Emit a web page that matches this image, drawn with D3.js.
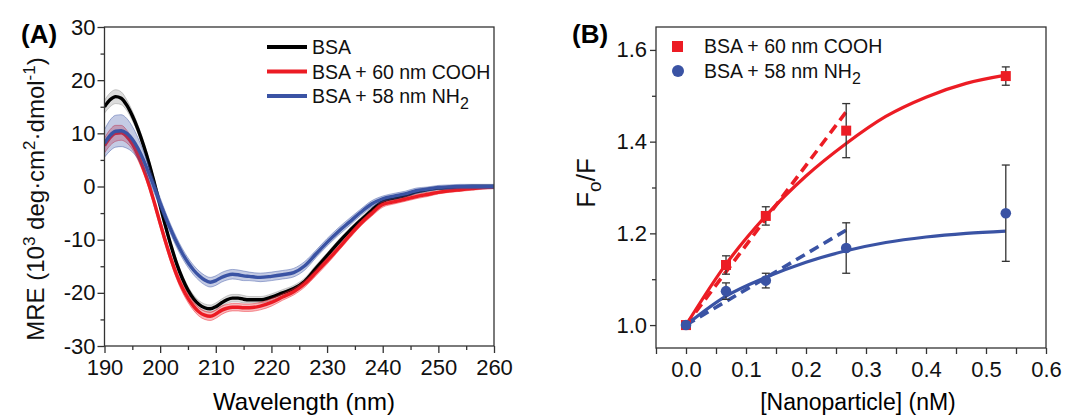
<!DOCTYPE html>
<html>
<head>
<meta charset="utf-8">
<script src="https://cdn.jsdelivr.net/npm/d3@7"></script>
<style>
  body { margin: 0; background: #fff; }
  svg { display: block; font-family: "Liberation Sans", Arial, sans-serif; }
</style>
</head>
<body>
<svg id="chart" width="1083" height="416"></svg>
<script>
// ---- panel A data: CD spectra ----
const wavelength = [190,191,192,193,194,195,196,197,198,199,200,201,202,203,204,205,206,207,208,209,210,211,212,213,214,215,216,218,220,222,224,226,228,230,232,234,236,238,240,242,244,246,248,250,252,254,256,258,260]
const mreBSA  = [15.0,16.3,16.9,16.6,15.3,13.3,10.8,7.8,4.4,0.5,-3.6,-7.6,-11.3,-14.6,-17.3,-19.5,-21.1,-22.2,-22.8,-23.0,-22.6,-21.9,-21.3,-21.0,-21.0,-21.2,-21.3,-21.3,-20.8,-20.0,-19.2,-17.8,-15.4,-13.0,-10.6,-8.4,-6.4,-4.5,-2.8,-2.2,-1.7,-1.0,-0.6,-0.3,-0.2,-0.1,0,0,0]
const errBSA  = [1.2,1.3,1.3,1.2,1.0,0.9,0.8,0.8,0.7,0.7,0.7,0.7,0.7,0.7,0.7,0.7,0.7,0.7,0.7,0.7,0.7,0.7,0.7,0.7,0.7,0.7,0.6,0.6,0.6,0.6,0.6,0.6,0.6,0.5,0.5,0.5,0.5,0.5,0.5,0.4,0.4,0.4,0.4,0.3,0.3,0.3,0.3,0.3,0.3]
const mreCOOH = [7.7,9.2,10.0,10.1,9.4,8.0,5.9,3.3,0.3,-3.2,-6.9,-10.5,-13.8,-16.7,-19.1,-21.0,-22.5,-23.6,-24.2,-24.4,-24.0,-23.3,-22.9,-22.7,-22.7,-22.8,-22.8,-22.5,-21.8,-20.8,-19.8,-18.3,-16.2,-14.0,-11.7,-9.3,-7.0,-5.1,-3.4,-2.9,-2.4,-1.9,-1.5,-1.1,-0.8,-0.6,-0.4,-0.2,-0.1]
const errCOOH = [1.4,1.5,1.5,1.4,1.2,1.0,0.9,0.8,0.8,0.8,0.8,0.8,0.8,0.8,0.8,0.8,0.8,0.8,0.8,0.8,0.8,0.8,0.7,0.7,0.7,0.7,0.7,0.7,0.7,0.6,0.6,0.6,0.6,0.6,0.5,0.5,0.5,0.5,0.5,0.4,0.4,0.4,0.4,0.3,0.3,0.3,0.3,0.3,0.3]
const mreNH2  = [8.1,9.6,10.4,10.5,10.0,8.9,7.2,5.0,2.4,-0.3,-3.1,-5.8,-8.3,-10.6,-12.6,-14.3,-15.7,-16.8,-17.6,-18.0,-17.7,-17.1,-16.7,-16.5,-16.6,-16.8,-16.9,-17.1,-16.9,-16.6,-16.2,-14.9,-12.7,-10.5,-8.5,-6.7,-4.9,-3.3,-2.3,-1.8,-1.4,-0.8,-0.5,-0.2,-0.1,0,0,0,0]
const errNH2  = [2.6,2.9,3.0,3.0,2.8,2.4,2.0,1.6,1.3,1.1,1.0,0.9,0.9,0.9,0.9,0.9,0.9,0.9,0.9,0.9,0.9,0.9,0.9,0.9,0.9,0.9,0.8,0.8,0.8,0.8,0.8,0.8,0.7,0.7,0.7,0.7,0.6,0.6,0.5,0.5,0.5,0.5,0.4,0.4,0.4,0.4,0.4,0.4,0.4]

// ---- panel B data: quenching ----
const conc   = [0, 0.0667, 0.133, 0.267, 0.533]
const fCOOH  = [1.0, 1.131, 1.238, 1.424, 1.543]
const eCOOH  = [0, 0.02, 0.02, 0.059, 0.02]
const fNH2   = [1.0, 1.074, 1.097, 1.168, 1.244]
const eNH2   = [0, 0.018, 0.016, 0.055, 0.105]
// fitted curves as drawn in the figure
const fitX      = [0, 0.0667, 0.133, 0.2, 0.267, 0.333, 0.4, 0.467, 0.533]
const fitCOOH   = [1.0, 1.133, 1.238, 1.325, 1.396, 1.455, 1.497, 1.527, 1.545]
const fitNH2    = [1.0, 1.063, 1.104, 1.137, 1.162, 1.180, 1.192, 1.200, 1.205]
const linX      = [0, 0.267]
const linCOOH   = [1.0, 1.465]
const linNH2    = [1.0, 1.207]

const xTicksA = [190,200,210,220,230,240,250,260]
const yTicksA = [-30,-20,-10,0,10,20,30]
const xTicksB = [0,0.1,0.2,0.3,0.4,0.5,0.6]
const yTicksB = [1.0,1.2,1.4,1.6]

const RED = "#ec1c24", BLUE = "#3a53a4", AXIS = "#333"

const svg = d3.select("#chart")

function frame(g, x, y) {
  let [x0, x1] = x.range(), [y1, y0] = y.range()
  g.append("rect").attr("x", x0).attr("y", y0).attr("width", x1 - x0).attr("height", y1 - y0)
    .attr("fill", "none").attr("stroke", AXIS).attr("stroke-width", 1.3)
}

function styleAxis(sel) {
  sel.select(".domain").remove()
  sel.selectAll("line").attr("stroke", AXIS).attr("stroke-width", 1.3)
  sel.selectAll("text").attr("fill", "#111").style("font-size", "22px")
    .style("font-family", "'Liberation Sans', Arial, sans-serif")
}

// ================= panel A =================
const xA = d3.scaleLinear().domain([190, 260]).range([104.5, 494])
const yA = d3.scaleLinear().domain([-30, 30]).range([346, 27])
const gA = svg.append("g")

svg.append("defs").append("clipPath").attr("id", "clipA")
  .append("rect").attr("x", 104.5).attr("y", 27).attr("width", 389.5).attr("height", 319)

gA.append("g").attr("transform", "translate(0,346)")
  .call(d3.axisBottom(xA).tickValues(d3.range(195, 260, 10)).tickSize(4).tickFormat(""))
  .call(styleAxis)
gA.append("g").attr("transform", "translate(0,346)")
  .call(d3.axisBottom(xA).tickValues(xTicksA).tickSize(7).tickPadding(6).tickFormat(d => d))
  .call(styleAxis)
gA.append("g").attr("transform", "translate(104.5,0)")
  .call(d3.axisLeft(yA).tickValues(d3.range(-25, 30, 10)).tickSize(4).tickFormat(""))
  .call(styleAxis)
gA.append("g").attr("transform", "translate(104.5,0)")
  .call(d3.axisLeft(yA).tickValues(yTicksA).tickSize(7).tickPadding(2).tickFormat(d => String(d)))
  .call(styleAxis)

const seriesA = [
  {v: mreBSA, e: errBSA, color: "#000", band: "#8c8c8c"},
  {v: mreCOOH, e: errCOOH, color: RED, band: RED},
  {v: mreNH2, e: errNH2, color: BLUE, band: BLUE}
]
const plotA = gA.append("g").attr("clip-path", "url(#clipA)")
seriesA.forEach(s => {
  let pts = wavelength.map((w, i) => ({w: w, v: s.v[i], e: s.e[i]}))
  let area = d3.area().curve(d3.curveMonotoneX)
    .x(d => xA(d.w)).y0(d => yA(d.v - d.e)).y1(d => yA(d.v + d.e))
  plotA.append("path").datum(pts).attr("d", area)
    .attr("fill", s.band).attr("fill-opacity", 0.3)
  ;[1, -1].forEach(sign => {
    plotA.append("path").datum(pts)
      .attr("d", d3.line().curve(d3.curveMonotoneX).x(d => xA(d.w)).y(d => yA(d.v + sign * d.e)))
      .attr("fill", "none").attr("stroke", s.band).attr("stroke-opacity", 0.55).attr("stroke-width", 0.8)
  })
  plotA.append("path").datum(pts)
    .attr("d", d3.line().curve(d3.curveMonotoneX).x(d => xA(d.w)).y(d => yA(d.v)))
    .attr("fill", "none").attr("stroke", s.color).attr("stroke-width", 3.4)
})
frame(gA, xA, yA)

// legend A
const legA = [
  {label: "BSA", color: "#000"},
  {label: "BSA + 60 nm COOH", color: RED},
  {label: "BSA + 58 nm NH", sub: "2", color: BLUE}
]
legA.forEach((d, i) => {
  let cy = 47 + i * 24.5
  gA.append("line").attr("x1", 267).attr("x2", 307).attr("y1", cy).attr("y2", cy)
    .attr("stroke", d.color).attr("stroke-width", 4)
  let t = gA.append("text").attr("x", 312).attr("y", cy + 7).style("font-size", "19.5px").attr("fill", "#111")
  t.append("tspan").text(d.label)
  if (d.sub) t.append("tspan").attr("dy", 6).style("font-size", "16px").text(d.sub)
})

gA.append("text").attr("x", 21).attr("y", 43).style("font-size", "26px").style("font-weight", "bold").text("(A)")
gA.append("text").attr("x", 304).attr("y", 410).attr("text-anchor", "middle").style("font-size", "24px").text("Wavelength (nm)")

const yLabA = gA.append("text").attr("transform", "translate(44,199) rotate(-90)")
  .attr("text-anchor", "middle").style("font-size", "24px").attr("fill", "#111")
yLabA.append("tspan").text("MRE (10")
yLabA.append("tspan").attr("dy", -9).style("font-size", "17px").text("3")
yLabA.append("tspan").attr("dy", 9).text(" deg·cm")
yLabA.append("tspan").attr("dy", -9).style("font-size", "17px").text("2")
yLabA.append("tspan").attr("dy", 9).text("·dmol")
yLabA.append("tspan").attr("dy", -9).style("font-size", "17px").text("-1")
yLabA.append("tspan").attr("dy", 9).text(")")

// ================= panel B =================
const xB = d3.scaleLinear().domain([-0.05, 0.6]).range([656, 1046])
const yB = d3.scaleLinear().domain([0.95, 1.65]).range([348, 27])
const gB = svg.append("g")

gB.append("g").attr("transform", "translate(0,348)")
  .call(d3.axisBottom(xB).tickValues(d3.range(-0.05, 0.6, 0.1)).tickSize(6).tickFormat(""))
  .call(styleAxis)
gB.append("g").attr("transform", "translate(0,348)")
  .call(d3.axisBottom(xB).tickValues(xTicksB).tickSize(6).tickPadding(7).tickFormat(d3.format(".1f")))
  .call(styleAxis)
gB.append("g").attr("transform", "translate(656,0)")
  .call(d3.axisLeft(yB).tickValues([1.1, 1.3, 1.5]).tickSize(4).tickFormat(""))
  .call(styleAxis)
gB.append("g").attr("transform", "translate(656,0)")
  .call(d3.axisLeft(yB).tickValues(yTicksB).tickSize(6).tickPadding(3).tickFormat(d3.format(".1f")))
  .call(styleAxis)

const lineB = d3.line().curve(d3.curveMonotoneX).x(d => xB(d[0])).y(d => yB(d[1]))
const fits = [
  {x: fitX, y: fitCOOH, color: RED, dash: null},
  {x: linX, y: linCOOH, color: RED, dash: "10,6"},
  {x: fitX, y: fitNH2, color: BLUE, dash: null},
  {x: linX, y: linNH2, color: BLUE, dash: "10,6"}
]
fits.forEach(f => {
  gB.append("path").datum(f.x.map((v, i) => [v, f.y[i]])).attr("d", lineB)
    .attr("fill", "none").attr("stroke", f.color)
    .attr("stroke-width", f.dash ? 3.6 : 3.2)
    .attr("stroke-dasharray", f.dash)
})

const pointSets = [
  {y: fCOOH, e: eCOOH, color: RED, shape: "square"},
  {y: fNH2, e: eNH2, color: BLUE, shape: "circle"}
]
pointSets.forEach(p => {
  conc.forEach((c, i) => {
    if (p.e[i] <= 0) return
    let px = xB(c), top = yB(p.y[i] + p.e[i]), bot = yB(p.y[i] - p.e[i])
    gB.append("line").attr("x1", px).attr("x2", px).attr("y1", top).attr("y2", bot)
      .attr("stroke", AXIS).attr("stroke-width", 1.3)
    ;[top, bot].forEach(yy => gB.append("line").attr("x1", px - 4).attr("x2", px + 4)
      .attr("y1", yy).attr("y2", yy).attr("stroke", AXIS).attr("stroke-width", 1.3))
  })
})
pointSets.forEach(p => {
  conc.forEach((c, i) => {
    if (p.shape === "square") {
      gB.append("rect").attr("x", xB(c) - 5).attr("y", yB(p.y[i]) - 5)
        .attr("width", 10).attr("height", 10).attr("fill", p.color)
    } else {
      gB.append("circle").attr("cx", xB(c)).attr("cy", yB(p.y[i])).attr("r", 5.3).attr("fill", p.color)
    }
  })
})
frame(gB, xB, yB)

// legend B
gB.append("rect").attr("x", 672).attr("y", 41).attr("width", 11).attr("height", 11).attr("fill", RED)
gB.append("circle").attr("cx", 678).attr("cy", 71).attr("r", 6).attr("fill", BLUE)
gB.append("text").attr("x", 704).attr("y", 53).style("font-size", "19.5px").attr("fill", "#111").text("BSA + 60 nm COOH")
const lb2 = gB.append("text").attr("x", 704).attr("y", 78).style("font-size", "19.5px").attr("fill", "#111")
lb2.append("tspan").text("BSA + 58 nm NH")
lb2.append("tspan").attr("dy", 6).style("font-size", "16px").text("2")

gB.append("text").attr("x", 572).attr("y", 43).style("font-size", "26px").style("font-weight", "bold").text("(B)")
gB.append("text").attr("x", 858).attr("y", 410).attr("text-anchor", "middle").style("font-size", "23px").text("[Nanoparticle] (nM)")

const yLabB = gB.append("text").attr("transform", "translate(595,183) rotate(-90)")
  .attr("text-anchor", "middle").style("font-size", "26px").attr("fill", "#111")
yLabB.append("tspan").text("F")
yLabB.append("tspan").attr("dy", 6).style("font-size", "19px").text("o")
yLabB.append("tspan").attr("dy", -6).text("/F")
</script>
</body>
</html>
